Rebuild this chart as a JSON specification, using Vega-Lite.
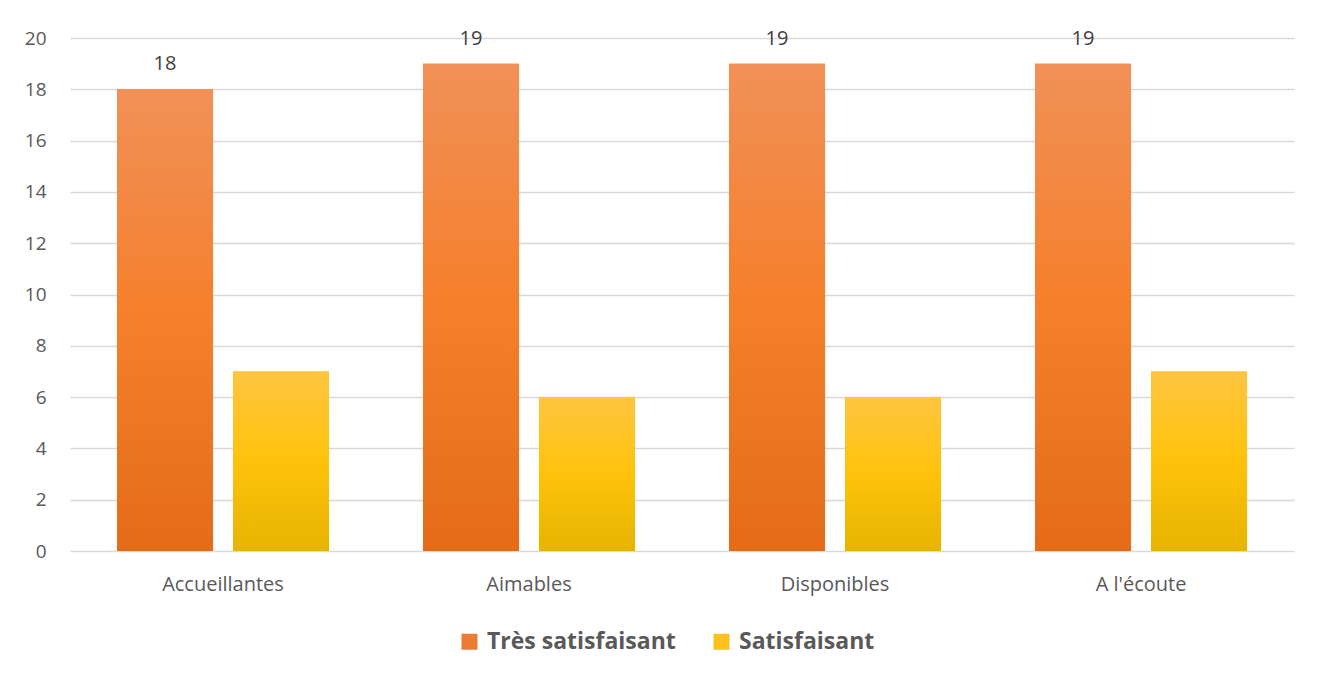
{
  "$schema": "https://vega.github.io/schema/vega-lite/v6.json",
  "width": 1224,
  "height": 513,
  "autosize": {"type": "none"},
  "padding": {"left": 70, "top": 38, "right": 28, "bottom": 124},
  "background": "white",
  "config": {
    "view": {"stroke": null},
    "font": "Open Sans"
  },
  "data": {
    "values": [
      {"critere": "Accueillantes", "niveau": "Très satisfaisant", "n": 18},
      {"critere": "Accueillantes", "niveau": "Satisfaisant", "n": 7},
      {"critere": "Aimables", "niveau": "Très satisfaisant", "n": 19},
      {"critere": "Aimables", "niveau": "Satisfaisant", "n": 6},
      {"critere": "Disponibles", "niveau": "Très satisfaisant", "n": 19},
      {"critere": "Disponibles", "niveau": "Satisfaisant", "n": 6},
      {"critere": "A l'écoute", "niveau": "Très satisfaisant", "n": 19},
      {"critere": "A l'écoute", "niveau": "Satisfaisant", "n": 7}
    ]
  },
  "encoding": {
    "x": {
      "field": "critere",
      "type": "nominal",
      "sort": ["Accueillantes", "Aimables", "Disponibles", "A l'écoute"],
      "scale": {"paddingInner": 0, "paddingOuter": 0},
      "axis": {
        "title": null,
        "labelAngle": 0,
        "labelFontSize": 20,
        "labelColor": "#595959",
        "labelPadding": 23,
        "ticks": false,
        "domain": false
      }
    },
    "xOffset": {
      "field": "niveau",
      "type": "nominal",
      "sort": ["Très satisfaisant", "Satisfaisant"],
      "scale": {"domain": ["Très satisfaisant", "Satisfaisant"], "paddingInner": 0.172, "paddingOuter": 0.405}
    },
    "y": {
      "field": "n",
      "type": "quantitative",
      "scale": {"domain": [0, 20]},
      "axis": {
        "title": null,
        "values": [0, 2, 4, 6, 8, 10, 12, 14, 16, 18, 20],
        "labelFontSize": 19,
        "labelColor": "#595959",
        "labelPadding": 24,
        "ticks": false,
        "domain": false,
        "gridColor": "#d9d9d9",
        "gridWidth": 1.5
      }
    }
  },
  "layer": [
    {
      "mark": {"type": "bar"},
      "encoding": {
        "color": {
          "field": "niveau",
          "type": "nominal",
          "sort": ["Très satisfaisant", "Satisfaisant"],
          "scale": {
            "domain": ["Très satisfaisant", "Satisfaisant"],
            "range": ["#EE7B33", "#FDC11E"]
          },
          "legend": {
            "title": null,
            "orient": "none",
            "legendX": 388,
            "legendY": 592,
            "direction": "horizontal",
            "symbolType": "square",
            "symbolSize": 256,
            "symbolStrokeWidth": 0,
            "labelFontSize": 23,
            "labelFontWeight": "bold",
            "labelColor": "#595959",
            "labelLimit": 0,
            "labelOffset": 6,
            "columnPadding": 34
          }
        }
      }
    },
    {
      "transform": [{"filter": "datum.niveau === 'Très satisfaisant'"}],
      "mark": {
        "type": "bar",
        "fill": {"gradient": "linear", "x1": 0, "y1": 0, "x2": 0, "y2": 1, "stops": [{"offset": 0, "color": "#F19058"}, {"offset": 0.5, "color": "#F57F2A"}, {"offset": 1, "color": "#E46C19"}]}
      }
    },
    {
      "transform": [{"filter": "datum.niveau === 'Satisfaisant'"}],
      "mark": {
        "type": "bar",
        "fill": {"gradient": "linear", "x1": 0, "y1": 0, "x2": 0, "y2": 1, "stops": [{"offset": 0, "color": "#FFC540"}, {"offset": 0.5, "color": "#FFC20A"}, {"offset": 1, "color": "#E6B400"}]}
      }
    },
    {
      "transform": [{"filter": "datum.niveau === 'Très satisfaisant'"}],
      "mark": {"type": "text", "dy": -25, "fontSize": 20, "color": "#404040"},
      "encoding": {
        "text": {"field": "n", "type": "quantitative"}
      }
    }
  ]
}
